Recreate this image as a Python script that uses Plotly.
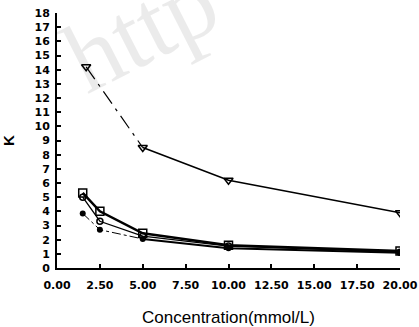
import plotly.graph_objects as go

# Data
conc = [1.5, 2.5, 5.0, 10.0, 20.0]
k_square = [5.3, 4.0, 2.45, 1.6, 1.2]
k_open_circle = [5.0, 3.3, 2.25, 1.55, 1.12]
k_filled_circle = [3.85, 2.7, 2.05, 1.4, 1.08]
conc_tri = [1.7, 5.0, 10.0, 20.0]
k_triangle = [14.2, 8.5, 6.2, 3.9]

x_ticks = [0, 2.5, 5, 7.5, 10, 12.5, 15, 17.5, 20]
x_ticktext = ["0.00", "2.50", "5.00", "7.50", "10.00", "12.50", "15.00", "17.50", "20.00"]
y_ticks = list(range(0, 19))

fig = go.Figure()

# watermark
fig.add_annotation(text="http", xref="paper", yref="paper", x=0.245, y=0.935,
                   xanchor="center", yanchor="middle",
                   showarrow=False, textangle=-27,
                   font=dict(family="Liberation Serif", size=100, color="rgba(0,0,0,0.08)"))

fig.add_trace(go.Scatter(x=conc, y=k_square, mode="lines+markers",
                         line=dict(color="black", width=2.5),
                         marker=dict(symbol="square-open", size=8, color="black", line=dict(width=1.5))))
fig.add_trace(go.Scatter(x=conc, y=k_open_circle, mode="lines+markers",
                         line=dict(color="black", width=1.3),
                         marker=dict(symbol="circle-open", size=6, color="black", line=dict(width=1.5))))
fig.add_trace(go.Scatter(x=conc[:3], y=k_filled_circle[:3], mode="lines",
                         line=dict(color="black", width=1, dash="dashdot")))
fig.add_trace(go.Scatter(x=conc[2:], y=k_filled_circle[2:], mode="lines",
                         line=dict(color="black", width=2)))
fig.add_trace(go.Scatter(x=conc, y=k_filled_circle, mode="markers",
                         marker=dict(symbol="circle", size=6, color="black")))
fig.add_trace(go.Scatter(x=conc_tri[:2], y=k_triangle[:2], mode="lines",
                         line=dict(color="black", width=1.2, dash="longdashdot")))
fig.add_trace(go.Scatter(x=conc_tri[1:], y=k_triangle[1:], mode="lines",
                         line=dict(color="black", width=1.6)))
fig.add_trace(go.Scatter(x=conc_tri, y=k_triangle, mode="markers",
                         marker=dict(symbol="triangle-down-open", size=8, color="black", line=dict(width=1.5))))

fig.update_layout(
    width=419, height=327,
    margin=dict(l=57, r=19, t=13, b=59),
    paper_bgcolor="white", plot_bgcolor="white",
    showlegend=False,
    font=dict(family="Liberation Sans", color="black"),
    xaxis=dict(range=[0, 20], tickvals=x_ticks, ticktext=x_ticktext, automargin=False,
               showgrid=False, zeroline=False, showline=True, linecolor="black", linewidth=2,
               ticks="inside", ticklen=4, tickcolor="black", tickwidth=1.5,
               tickfont=dict(family="DejaVu Sans", size=11, weight="bold"), ticklabelstandoff=6,
               title=dict(text="Concentration(mmol/L)", font=dict(size=17), standoff=25)),
    yaxis=dict(range=[0, 18], tickvals=y_ticks, automargin=False,
               showgrid=False, zeroline=False, showline=True, linecolor="black", linewidth=2,
               ticks="inside", ticklen=4, tickcolor="black", tickwidth=1.5,
               tickfont=dict(family="DejaVu Sans", size=11, weight="bold"), ticklabelstandoff=3,
               title=dict(text="K", font=dict(size=15, weight="bold"), standoff=18)),
)

fig.write_html("out.html")
